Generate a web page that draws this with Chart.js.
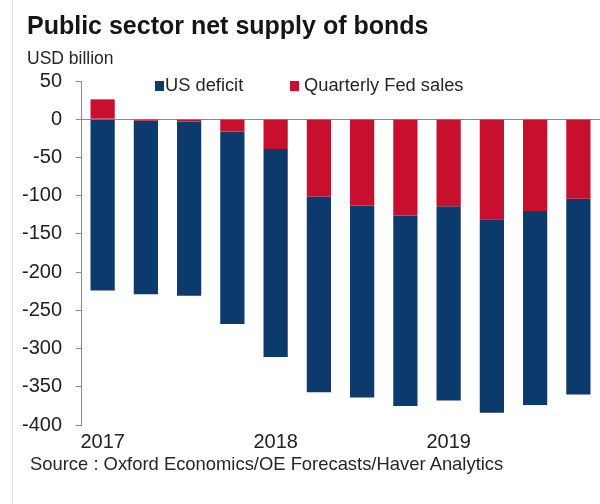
<!DOCTYPE html>
<html>
<head>
<meta charset="utf-8">
<script src="https://cdn.jsdelivr.net/npm/chart.js@4.4.1/dist/chart.umd.min.js"></script>
<style>
  html, body { margin: 0; padding: 0; background: #fff; }
  #wrap { position: relative; width: 600px; height: 504px; overflow: hidden; background: #fff;
          font-family: "Liberation Sans", Arial, sans-serif; }
  #wrap canvas { position: absolute; left: 0; top: 0; }
  .txt { position: absolute; white-space: nowrap; line-height: 1; color: #262626; }
  #title { left: 27px; top: 13px; font-size: 25px; font-weight: bold; color: #151515; }
  #units { left: 27px; top: 50px; font-size: 17.5px; }
  #source { left: 30px; top: 455px; font-size: 18.4px; }
  .leg { position: absolute; top: 76px; font-size: 18.3px; line-height: 1; color: #262626; white-space: nowrap; }
  .sw { position: absolute; width: 9px; height: 10px; }
  #border { position: absolute; left: 12px; top: 0; width: 1px; height: 504px; background: #e4e4e4; }
</style>
</head>
<body>
<div id="wrap">
  <div id="border"></div>
  <canvas id="c" width="600" height="504"></canvas>
  <div id="title" class="txt">Public sector net supply of bonds</div>
  <div id="units" class="txt">USD billion</div>
  <div id="legend"></div>
  <div id="source" class="txt">Source : Oxford Economics/OE Forecasts/Haver Analytics</div>
</div>
<script>
// ---- data ----
const categories = ['2017 Q1','2017 Q2','2017 Q3','2017 Q4',
                    '2018 Q1','2018 Q2','2018 Q3','2018 Q4',
                    '2019 Q1','2019 Q2','2019 Q3','2019 Q4'];
const usDeficit = [-224, -227, -228, -252, -272, -256, -251, -249, -254, -253, -254, -256];
const fedSales  = [26, -2, -3, -16, -39, -101, -113, -126, -114, -131, -120, -104];
const seriesNames = ['US deficit', 'Quarterly Fed sales'];
const yTicks = { min: -400, max: 50, step: 50 };

const colors = ['#0d3a6c', '#c8102e'];
const font = '"Liberation Sans", Arial, sans-serif';

// HTML legend
const legend = document.getElementById('legend');
const legPos = [{sw: 155, tx: 165}, {sw: 290, tx: 304}];
seriesNames.forEach((name, i) => {
  const s = document.createElement('div');
  s.className = 'sw';
  s.style.left = legPos[i].sw + 'px';
  s.style.top = '81px';
  s.style.background = colors[i];
  legend.appendChild(s);
  const t = document.createElement('div');
  t.className = 'leg';
  t.style.left = legPos[i].tx + 'px';
  t.textContent = name;
  legend.appendChild(t);
});

new Chart(document.getElementById('c'), {
  type: 'bar',
  data: {
    labels: categories,
    datasets: [
      { label: seriesNames[0], data: usDeficit, backgroundColor: colors[0], order: 1,
        borderWidth: 0, categoryPercentage: 0.56, barPercentage: 1.0 },
      { label: seriesNames[1], data: fedSales, backgroundColor: colors[1], order: 0,
        borderWidth: 0, categoryPercentage: 0.56, barPercentage: 1.0 }
    ]
  },
  options: {
    responsive: false,
    animation: false,
    devicePixelRatio: 1,
    layout: { padding: { left: 22, right: 0, top: 81, bottom: 45 } },
    plugins: { legend: { display: false }, tooltip: { enabled: false }, title: { display: false } },
    scales: {
      x: {
        stacked: true,
        grid: { display: false, drawTicks: false },
        border: { display: false },
        ticks: {
          autoSkip: false, maxRotation: 0, minRotation: 0, padding: 5,
          color: '#222', font: { family: font, size: 20 },
          callback: function(v, i) {
            const c = categories[i];
            return c.endsWith('Q1') ? c.slice(0, 4) : '';
          }
        }
      },
      y: {
        stacked: true,
        min: yTicks.min, max: yTicks.max,
        z: 1,
        afterFit: s => { s.width = 59; },
        grid: {
          drawOnChartArea: true,
          drawTicks: true,
          tickLength: 5,
          lineWidth: 1,
          color: ctx => (ctx.tick && ctx.tick.value === 0) ? '#8a8a8a' : 'rgba(0,0,0,0)',
          tickColor: '#8a8a8a'
        },
        border: { display: true, color: '#8a8a8a', width: 1 },
        ticks: {
          stepSize: yTicks.step, padding: 14,
          color: '#222', font: { family: font, size: 20 }
        }
      }
    }
  }
});
</script>
</body>
</html>
